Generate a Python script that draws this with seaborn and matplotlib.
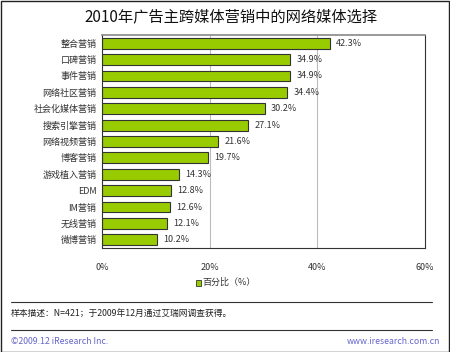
import matplotlib.pyplot as plt
import seaborn as sns
import pandas as pd

categories = ['整合营销', '口碑营销', '事件营销', '网络社区营销', '社会化媒体营销', '搜索引擎营销',
              '网络视频营销', '博客营销', '游戏植入营销', 'EDM', 'IM营销', '无线营销', '微博营销']
values = [42.3, 34.9, 34.9, 34.4, 30.2, 27.1, 21.6, 19.7, 14.3, 12.8, 12.6, 12.1, 10.2]
xticks = [0, 20, 40, 60]

df = pd.DataFrame({'cat': categories, 'val': values})

sns.set_style('white')
plt.rcParams['font.family'] = ['Noto Sans CJK SC', 'DejaVu Sans']

fig = plt.figure(figsize=(4.5, 3.52), dpi=100)
ax = fig.add_axes([102/450, 1 - 248/352, 323/450, 213/352])

sns.barplot(data=df, x='val', y='cat', color='#99cc00', edgecolor='#333333',
            linewidth=0.8, width=0.66, saturation=1, ax=ax)

for i, v in enumerate(values):
    ax.text(v + 1.2, i, f'{v}%', va='center', ha='left', fontsize=6.5, color='#333333')

ax.set_xlim(0, 60)
ax.set_xticks(xticks)
ax.set_xticklabels([f'{t}%' for t in xticks], fontsize=6.5, color='#333333')
ax.tick_params(axis='x', length=0, pad=11)
ax.tick_params(axis='y', length=0, labelsize=6.5, labelcolor='#333333', pad=4)
ax.set_xlabel('')
ax.set_ylabel('')
for x in [20, 40]:
    ax.axvline(x, color='#bbbbbb', linewidth=0.8, zorder=0)
for s in ['left', 'bottom', 'right']:
    ax.spines[s].set_color('#333333')
    ax.spines[s].set_linewidth(0.8)
ax.spines['top'].set_color('#888888')
ax.spines['top'].set_linewidth(1.2)

# legend
fig.patches.append(plt.Rectangle((196/450, 1 - 286/352), 5/450, 6/352, facecolor='#99cc00',
                                  edgecolor='#333333', linewidth=0.6, transform=fig.transFigure))
fig.text(202/450, 1 - 282/352, '百分比（%）', fontsize=6.5, color='#333333', va='center', ha='left')

fig.text(231/450, 1 - 17/352, '2010年广告主跨媒体营销中的网络媒体选择', fontsize=11,
         color='#111111', ha='center', va='center')

fig.add_artist(plt.Line2D([11/450, 432/450], [1 - 302/352, 1 - 302/352], color='#333333',
                          linewidth=0.8, transform=fig.transFigure))
fig.text(11/450, 1 - 313/352, '样本描述：N=421；于2009年12月通过艾瑞网调查获得。', fontsize=6.3,
         color='#222222', va='center', ha='left')
fig.add_artist(plt.Line2D([11/450, 432/450], [1 - 330/352, 1 - 330/352], color='#333333',
                          linewidth=0.8, transform=fig.transFigure))
fig.text(11/450, 1 - 341/352, '©2009.12 iResearch Inc.', fontsize=6.3, color='#6666cc',
         va='center', ha='left')
fig.text(440/450, 1 - 341/352, 'www.iresearch.com.cn', fontsize=6.3, color='#6666cc',
         va='center', ha='right')

fig.patches.append(plt.Rectangle((0.5/450, 0.5/352), 448.5/450, 350.5/352, fill=False,
                                  edgecolor='#222222', linewidth=1, transform=fig.transFigure))

fig.savefig('out.png', dpi=100)
